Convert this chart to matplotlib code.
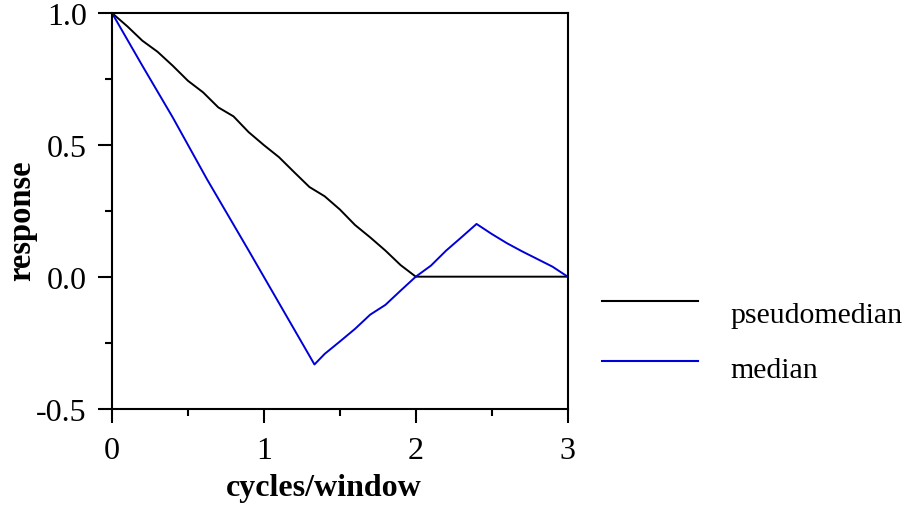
import matplotlib
matplotlib.use('Agg')
import matplotlib.pyplot as plt
from matplotlib.lines import Line2D
from matplotlib.ticker import MultipleLocator

# frequency axis (cycles/window)
x_pseudo = [0.0, 0.1, 0.2, 0.3, 0.4, 0.5, 0.6, 0.7, 0.8, 0.9, 1.0,
            1.1, 1.2, 1.3, 1.4, 1.5, 1.6, 1.7, 1.8, 1.9, 2.0, 3.0]
y_pseudo = [1.0, 0.95, 0.895, 0.853, 0.80, 0.743, 0.699, 0.642, 0.608, 0.548, 0.499,
            0.453, 0.396, 0.34, 0.305, 0.255, 0.196, 0.149, 0.099, 0.044, 0.0, 0.0]

x_median = [0.0, 0.2, 0.4, 0.5, 0.625, 0.9, 1.333, 1.4, 1.5, 1.6, 1.7, 1.8, 1.9,
            2.0, 2.1, 2.2, 2.3, 2.4, 2.5, 2.6, 2.7, 2.8, 2.9, 3.0]
y_median = [1.0, 0.80, 0.604, 0.50, 0.37, 0.099, -0.333, -0.293, -0.246, -0.198, -0.144,
            -0.107, -0.053, 0.0, 0.042, 0.099, 0.149, 0.20, 0.162, 0.127, 0.096, 0.067,
            0.038, 0.0]

plt.rcParams['font.family'] = ['Liberation Serif', 'DejaVu Serif']
FS = 23

fig = plt.figure(figsize=(9.09, 5.06), dpi=100)
ax = fig.add_axes([0.1232, 0.1907, 0.5013, 0.7816])

l1, = ax.plot(x_pseudo, y_pseudo, color='black', lw=1.4, label='pseudomedian')
l2, = ax.plot(x_median, y_median, color='#0000d8', lw=1.4, label='median')

ax.set_xlim(0, 3)
ax.set_ylim(-0.5, 1.0)
ax.xaxis.set_minor_locator(MultipleLocator(0.5))
ax.yaxis.set_minor_locator(MultipleLocator(0.25))
ax.set_yticks([-0.5, 0.0, 0.5, 1.0])
ax.set_yticklabels(['-0.5', '0.0', '0.5', '1.0'])
ax.set_xticks([0, 1, 2, 3])
ax.set_xticklabels(['0', '1', '2', '3'])

for side in ax.spines.values():
    side.set_linewidth(1.5)
ax.tick_params(which='major', direction='out', length=10, width=1.5, labelsize=FS, pad=8)
ax.tick_params(which='minor', direction='out', length=5, width=1.5)
ax.tick_params(axis='x', which='major', pad=10)

ax.set_xlabel('cycles/window', fontsize=FS, fontweight='bold')
ax.xaxis.set_label_coords(0.465, -0.163)
ax.set_ylabel('response', fontsize=23.5, fontweight='bold')
ax.yaxis.set_label_coords(-0.165, 0.477)

# legend drawn by hand so the text can sit below the key lines
for line, ly, ty in [(l1, 0.4038, 0.3617), (l2, 0.2852, 0.2530)]:
    fig.add_artist(Line2D([0.6619, 0.7682], [ly, ly], transform=fig.transFigure,
                          color=line.get_color(), lw=1.5))
    fig.text(0.8035, ty, line.get_label(), fontsize=21.5, va='baseline', ha='left')

plt.savefig('out.png', dpi=100)
